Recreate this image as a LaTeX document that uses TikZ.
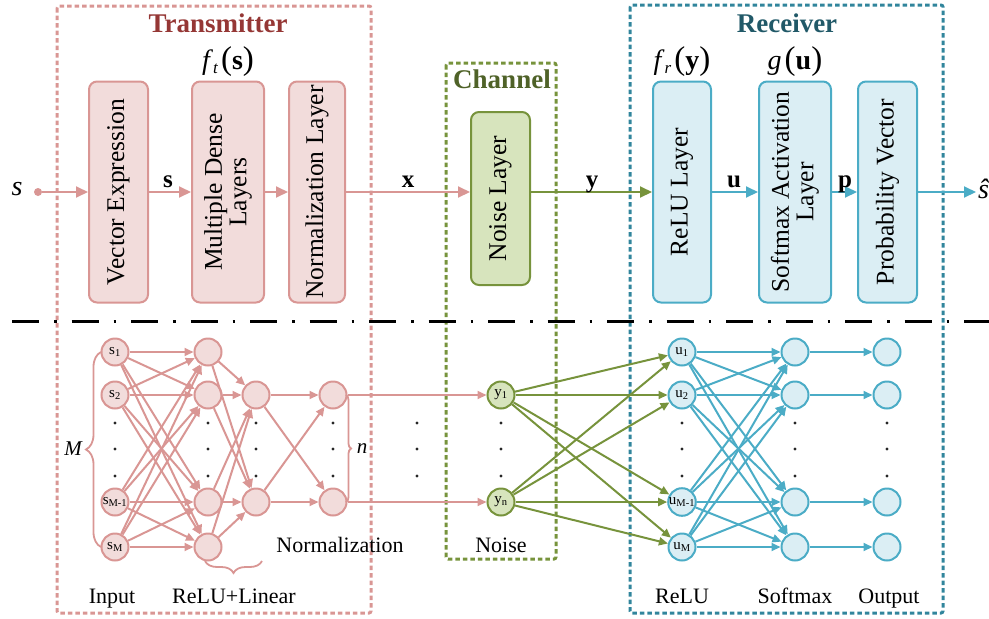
\documentclass[tikz,border=0pt]{standalone}
\usepackage{fontspec}
\setmainfont{Liberation Serif}
\usetikzlibrary{arrows.meta,decorations.pathreplacing}
\definecolor{pkS}{HTML}{D99694}
\definecolor{pkF}{HTML}{F2DCDB}
\definecolor{pkT}{HTML}{953735}
\definecolor{gnS}{HTML}{77933C}
\definecolor{gnF}{HTML}{D7E4BD}
\definecolor{gnT}{HTML}{4F6228}
\definecolor{blS}{HTML}{4BACC6}
\definecolor{blF}{HTML}{DBEEF4}
\definecolor{blD}{HTML}{31859C}
\definecolor{blT}{HTML}{215968}
\newcommand{\fsz}[1]{\fontsize{#1}{#1}\selectfont}
\begin{document}
\begin{tikzpicture}[x=1pt,y=-1pt,
  blk/.style={rounded corners=8pt, line width=2pt, inner sep=0pt},
  pkblk/.style={blk, draw=pkS, fill=pkF},
  gnblk/.style={blk, draw=gnS, fill=gnF},
  blblk/.style={blk, draw=blS, fill=blF},
  vtext/.style={rotate=90, align=center, font=\fsz{25.5}, inner sep=0pt},
  bigarr/.style={line width=2pt, -{Triangle[length=12pt,width=11pt]}},
  frame/.style={line width=3pt, dash pattern=on 4.5pt off 3pt, rounded corners=2pt},
  ttl/.style={font=\fsz{27}\bfseries, anchor=base, inner sep=0pt},
  neu/.style={circle, line width=2pt, minimum size=27pt, inner sep=0pt, font=\fsz{15}},
  pkn/.style={neu, draw=pkS, fill=pkF},
  gnn/.style={neu, draw=gnS, fill=gnF},
  bln/.style={neu, draw=blS, fill=blF},
  conn/.style={line width=2pt, -{Triangle[length=9pt,width=8pt]}},
  lbl/.style={font=\fsz{22}, anchor=base, inner sep=0pt},
  bvec/.style={font=\fsz{25}\bfseries, anchor=base, inner sep=0pt},
  fn/.style={font=\fsz{28}, inner sep=0pt},
  dotn/.style={circle, fill=black!85, inner sep=0pt, minimum size=3.4pt},
  brc/.style={line width=1.8pt, decorate},
]
\useasboundingbox (0,0) rectangle (989,619);

% frames
\draw[frame, draw=pkS] (57,6) rectangle (371,613);
\draw[frame, draw=gnS] (446,63) rectangle (556,559);
\draw[frame, draw=blD] (630,5) rectangle (943,613);
\node[ttl, text=pkT] (tTX) at (218,32) {Transmitter};
\node[ttl, text=gnT] (tCH) at (502,88) {Channel};
\node[ttl, text=blT] (tRX) at (787,32) {Receiver};

% separator
\draw[line width=3pt, dash pattern=on 27pt off 15pt on 2.5pt off 15pt] (12,321) -- (989,321);

% top blocks
\node[pkblk, minimum width=59pt, minimum height=221pt] (VE) at (118.5,192) {};
\node[pkblk, minimum width=72pt, minimum height=221pt] (MDL) at (228,192) {};
\node[pkblk, minimum width=56pt, minimum height=221pt] (NL) at (317,192) {};
\node[gnblk, minimum width=59pt, minimum height=173pt] (NS) at (500.5,198.5) {};
\node[blblk, minimum width=58pt, minimum height=221pt] (RL) at (682,192) {};
\node[blblk, minimum width=72pt, minimum height=221pt] (SM) at (795,192) {};
\node[blblk, minimum width=59pt, minimum height=221pt] (PV) at (887.5,192) {};
\node[vtext] (VEt) at (VE) {Vector Expression};
\node[vtext] (MDLt) at (MDL) {Multiple Dense\\[-1pt]Layers};
\node[vtext] (NLt) at (NL) {Normalization Layer};
\node[vtext] (NSt) at (NS) {Noise Layer};
\node[vtext] (RLt) at (RL) {ReLU Layer};
\node[vtext] (SMt) at (SM) {Softmax Activation\\[-1pt]Layer};
\node[vtext] (PVt) at (PV) {Probability Vector};

% function labels
\node[fn] (ft) at (228,62) {\textit{f}\raisebox{-4pt}{\fsz{17}\textit{t}}\hspace{3pt}{\fsz{33}(}\textbf{s}{\fsz{33})}};
\node[fn] (fr) at (682,62) {\textit{f}\raisebox{-4pt}{\fsz{17}\textit{r}}\hspace{3pt}{\fsz{33}(}\textbf{y}{\fsz{33})}};
\node[fn] (gu) at (795,62) {\textit{g}\hspace{3pt}{\fsz{33}(}\textbf{u}{\fsz{33})}};

% main flow
\node[circle, fill=pkS, minimum size=8pt, inner sep=0pt] (sdot) at (38,192) {};
\node[font=\fsz{28}\itshape, inner sep=0pt] (sin) at (17,189) {s};
\coordinate (shat) at (976,192);
\node[font=\fsz{28}\itshape, anchor=west, inner sep=0pt] (sout) at (978,189) {\^{s}};
\draw[bigarr, pkS] (sdot) -- (VE);
\draw[bigarr, pkS] (VE) -- (MDL);
\draw[bigarr, pkS] (MDL) -- (NL);
\draw[bigarr, pkS] (NL.east) -- (NL.east -| NS.west);
\draw[bigarr, gnS] (NS.east |- NL.east) -- (RL.west);
\draw[bigarr, blS] (RL) -- (SM);
\draw[bigarr, blS] (SM) -- (PV);
\draw[bigarr, blS] (PV.east) -- (shat);
\node[bvec] (ls) at (168,187) {s};
\node[bvec] (lx) at (408,187) {x};
\node[bvec] (ly) at (592,187) {y};
\node[bvec] (lu) at (734,187) {u};
\node[bvec] (lp) at (845,187) {p};

% bottom network nodes
\node[pkn] (in1) at (115,352) {s\textsubscript{1}};
\node[pkn] (in2) at (115,395) {s\textsubscript{2}};
\node[pkn] (in3) at (115,502) {s\textsubscript{M-1}};
\node[pkn] (in4) at (115,547) {s\textsubscript{M}};
\foreach \n/\y in {1/352,2/395,3/502,4/547} {
  \node[pkn] (h\n) at (208,\y) {};
  \node[bln] (sm\n) at (795,\y) {};
  \node[bln] (o\n) at (887,\y) {};
}
\node[pkn] (g1) at (256,395) {};
\node[pkn] (g2) at (256,502) {};
\node[pkn] (m1) at (333,395) {};
\node[pkn] (m2) at (333,502) {};
\node[gnn] (y1) at (501,395) {y\textsubscript{1}};
\node[gnn] (y2) at (501,502) {y\textsubscript{n}};
\node[bln] (u1) at (682,352) {u\textsubscript{1}};
\node[bln] (u2) at (682,395) {u\textsubscript{2}};
\node[bln] (u3) at (682,502) {u\textsubscript{M-1}};
\node[bln] (u4) at (682,547) {u\textsubscript{M}};

% connections
\foreach \i in {1,...,4} \foreach \j in {1,...,4} \draw[conn, pkS] (in\i) -- (h\j);
\foreach \i in {1,...,4} \foreach \j in {1,2} \draw[conn, pkS] (h\i) -- (g\j);
\foreach \i in {1,2} \foreach \j in {1,2} \draw[conn, pkS] (g\i) -- (m\j);
\draw[conn, pkS] (m1) -- (y1);
\draw[conn, pkS] (m2) -- (y2);
\foreach \i in {1,2} \foreach \j in {1,...,4} \draw[conn, gnS] (y\i) -- (u\j);
\foreach \i in {1,...,4} \foreach \j in {1,...,4} \draw[conn, blS] (u\i) -- (sm\j);
\foreach \i in {1,...,4} \draw[conn, blS] (sm\i) -- (o\i);

% dots
\foreach \c/\x in {a/115,b/208,c/256,d/333,e/417,f/501,g/682,h/795,i/887}
  \foreach \k/\y in {1/423,2/449,3/476}
    \node[dotn] (d\c\k) at (\x,\y) {};

% braces
\draw[brc, pkS, decoration={brace, amplitude=15pt}] (101,547) -- (101,352);
\node[font=\fsz{21}\itshape, inner sep=0pt] (Ml) at (73,449) {M};
\draw[brc, pkS, decoration={brace, amplitude=5pt}] (346,395) -- (346,502);
\node[font=\fsz{21}\itshape, inner sep=0pt] (nl) at (362,449) {n};
\draw[brc, pkS, decoration={brace, amplitude=12pt}] (262,561) -- (205,561);

% bottom labels
\node[lbl] (Lin) at (112,603) {Input};
\node[lbl] (Lrl) at (234,603) {ReLU+Linear};
\node[lbl] (Lno) at (340,552) {Normalization};
\node[lbl] (Lns) at (501,552) {Noise};
\node[lbl] (Lre) at (682,603) {ReLU};
\node[lbl] (Lsm) at (795,603) {Softmax};
\node[lbl] (Lou) at (889,603) {Output};
\end{tikzpicture}
\end{document}
